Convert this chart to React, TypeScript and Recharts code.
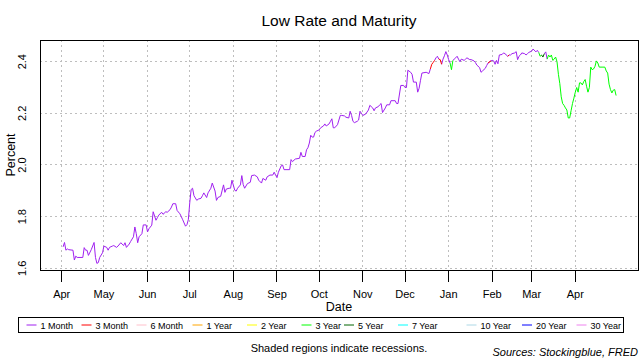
import React from "react";
import { CartesianGrid, Line, LineChart, ReferenceArea, XAxis, YAxis } from "recharts";

// month ticks on the date axis
const monthTicks = [
  "2018-04-01", "2018-05-01", "2018-06-01", "2018-07-01", "2018-08-01", "2018-09-01", "2018-10-01",
  "2018-11-01", "2018-12-01", "2019-01-01", "2019-02-01", "2019-03-01", "2019-04-01",
];
const monthLabels = ["Apr", "May", "Jun", "Jul", "Aug", "Sep", "Oct", "Nov", "Dec", "Jan", "Feb", "Mar", "Apr"];
const percentTicks = [1.6, 1.8, 2.0, 2.2, 2.4];

const maturities = ["1 Month", "3 Month", "6 Month", "1 Year", "2 Year", "3 Year", "5 Year", "7 Year", "10 Year", "20 Year", "30 Year"];
const maturityColors = ["#A020F0", "#FF0000", "#FFC0CB", "#FFA500", "#FFFF00", "#00FF00", "#006400", "#00FFFF", "#ADD8E6", "#0000FF", "#EE82EE"];

// lowest rate across maturities, read per month
const months = ["2018-04", "2018-05", "2018-06", "2018-07", "2018-08", "2018-09", "2018-10", "2018-11", "2018-12", "2019-01", "2019-02", "2019-03", "2019-04"];
const monthDays = [
  [2, 3, 4, 5, 6, 9, 10, 11, 12, 16, 17, 18, 19, 20, 22, 24, 25, 26, 27, 28, 30],
  [1, 3, 4, 5, 7, 8, 10, 11, 13, 15, 16, 17, 19, 20, 22, 23, 24, 25, 26, 28, 29, 31],
  [1, 2, 4, 5, 7, 8, 9, 11, 12, 14, 15, 17, 18, 19, 21, 22, 24, 25, 26, 28, 29, 30],
  [1, 2, 3, 4, 6, 7, 9, 10, 11, 13, 14, 16, 17, 19, 20, 21, 23, 25, 26, 27, 29, 30, 31],
  [2, 3, 4, 6, 7, 8, 9, 11, 13, 14, 16, 18, 19, 21, 22, 24, 25, 27, 29, 30, 31],
  [1, 2, 4, 5, 6, 10, 11, 12, 14, 17, 18, 19, 21, 22, 23, 24, 25, 26, 27, 28, 29],
  [1, 2, 4, 5, 6, 8, 9, 10, 11, 12, 14, 15, 16, 17, 19, 20, 22, 23, 24, 25, 26, 28, 29, 30, 31],
  [1, 3, 5, 6, 8, 9, 10, 12, 13, 14, 15, 17, 18, 20, 21, 24, 25, 26, 28, 30],
  [1, 2, 3, 5, 6, 7, 9, 10, 11, 12, 13, 16, 18, 19, 20, 21, 22, 23, 24, 25, 26, 27, 28, 29, 30, 31],
  [1, 2, 3, 4, 6, 7, 8, 9, 10, 12, 13, 14, 16, 17, 19, 20, 21, 23, 24, 25, 27, 28, 29, 31],
  [1, 2, 3, 4, 5, 6, 8, 9, 10, 12, 13, 14, 15, 17, 18, 19, 20, 21, 22, 24, 25, 26, 27],
  [1, 2, 4, 5, 6, 7, 8, 9, 10, 11, 12, 13, 14, 15, 16, 17, 18, 19, 20, 21, 22, 23, 24, 25, 26, 27, 28, 29, 30, 31],
  [1, 2, 3, 4, 5, 6, 7, 8, 9, 10, 11, 12, 13, 14, 15, 16, 17, 18, 20, 22, 23, 24, 25, 26, 27, 28, 29, 30],
];
const monthRates = [
  [1.683, 1.7, 1.67, 1.675, 1.672, 1.67, 1.632, 1.647, 1.642, 1.642, 1.68, 1.67, 1.67, 1.65, 1.672, 1.7, 1.642, 1.619, 1.622, 1.642, 1.66],
  [1.686, 1.681, 1.67, 1.681, 1.686, 1.688, 1.681, 1.686, 1.699, 1.688, 1.699, 1.681, 1.694, 1.704, 1.722, 1.76, 1.734, 1.699, 1.722, 1.734, 1.768, 1.768],
  [1.741, 1.753, 1.767, 1.819, 1.786, 1.796, 1.806, 1.817, 1.809, 1.819, 1.817, 1.827, 1.837, 1.85, 1.85, 1.824, 1.811, 1.8, 1.788, 1.763, 1.769, 1.788],
  [1.853, 1.905, 1.91, 1.881, 1.863, 1.868, 1.871, 1.881, 1.892, 1.874, 1.892, 1.91, 1.93, 1.899, 1.863, 1.874, 1.879, 1.923, 1.894, 1.907, 1.91, 1.91, 1.941],
  [1.902, 1.899, 1.91, 1.923, 1.959, 1.924, 1.91, 1.928, 1.933, 1.959, 1.961, 1.954, 1.941, 1.93, 1.948, 1.941, 1.954, 1.961, 1.961, 1.972, 1.961],
  [1.951, 1.972, 1.997, 2.0, 1.982, 1.982, 2.021, 2.013, 2.023, 2.026, 2.049, 2.033, 2.033, 2.059, 2.067, 2.085, 2.115, 2.108, 2.108, 2.126, 2.131],
  [2.136, 2.144, 2.151, 2.159, 2.151, 2.159, 2.169, 2.179, 2.144, 2.144, 2.156, 2.174, 2.192, 2.192, 2.19, 2.185, 2.182, 2.208, 2.192, 2.169, 2.164, 2.169, 2.174, 2.208, 2.2],
  [2.192, 2.197, 2.213, 2.231, 2.221, 2.21, 2.221, 2.226, 2.233, 2.238, 2.203, 2.221, 2.233, 2.233, 2.249, 2.249, 2.238, 2.238, 2.308, 2.308],
  [2.3, 2.3, 2.367, 2.359, 2.351, 2.321, 2.321, 2.282, 2.297, 2.328, 2.356, 2.359, 2.354, 2.372, 2.39, 2.397, 2.405, 2.415, 2.421, 2.41, 2.408, 2.39, 2.41, 2.423, 2.439, 2.426],
  [2.408, 2.395, 2.369, 2.405, 2.415, 2.421, 2.41, 2.4, 2.41, 2.405, 2.41, 2.415, 2.408, 2.408, 2.403, 2.397, 2.387, 2.377, 2.359, 2.364, 2.374, 2.385, 2.395, 2.403],
  [2.405, 2.403, 2.39, 2.405, 2.392, 2.426, 2.428, 2.434, 2.431, 2.421, 2.426, 2.426, 2.431, 2.434, 2.439, 2.408, 2.421, 2.426, 2.434, 2.431, 2.426, 2.431, 2.436],
  [2.441, 2.449, 2.438, 2.444, 2.436, 2.421, 2.426, 2.418, 2.431, 2.438, 2.41, 2.426, 2.418, 2.426, 2.405, 2.41, 2.418, 2.4, 2.351, 2.315, 2.264, 2.238, 2.231, 2.221, 2.213, 2.182, 2.182, 2.21, 2.238, 2.259],
  [2.282, 2.3, 2.282, 2.318, 2.318, 2.31, 2.323, 2.331, 2.305, 2.282, 2.3, 2.379, 2.369, 2.372, 2.382, 2.403, 2.395, 2.379, 2.379, 2.379, 2.364, 2.356, 2.313, 2.292, 2.279, 2.29, 2.292, 2.269],
];

// stretches where a maturity other than 1 Month held the lowest rate
const runStart = ["2018-12-20", "2018-12-26", "2019-01-03", "2019-01-31", "2019-02-13", "2019-03-07", "2019-03-09", "2019-03-13"];
const runEnd = ["2018-12-22", "2018-12-27", "2019-01-04", "2019-01-31", "2019-02-13", "2019-03-08", "2019-03-10", "2019-04-30"];
const runMaturity = ["3 Month", "3 Month", "3 Year", "3 Month", "3 Month", "3 Year", "5 Year", "3 Year"];

const pad = (n: number) => (n < 10 ? "0" + n : "" + n);
const dates: string[] = [];
const lowRate: number[] = [];
months.forEach((m, i) => {
  monthDays[i].forEach((d, j) => {
    dates.push(m + "-" + pad(d));
    lowRate.push(monthRates[i][j]);
  });
});

const ownerOf = (d: string) => {
  for (let k = 0; k < runStart.length; k++) {
    if (d >= runStart[k] && d <= runEnd[k]) return runMaturity[k];
  }
  return "1 Month";
};

const rows: Record<string, number>[] = dates.map((d) => ({ t: Date.parse(d) }));
dates.forEach((d, i) => {
  const m = ownerOf(d);
  rows[i][m] = lowRate[i];
  if (i > 0) rows[i - 1][m] = lowRate[i - 1];
});
const drawn = maturities.filter((m) => rows.some((r) => r[m] !== undefined));

const tickTimes = monthTicks.map((d) => Date.parse(d));
const xDomain = [Date.parse("2018-03-16T13:54:00Z"), Date.parse("2019-05-15T13:26:00Z")];
const yDomain = [1.5934, 2.484];

const font = "'Liberation Sans', Arial, sans-serif";
const legendX = [26.5, 81.5, 136.5, 192.5, 247, 301.5, 344, 398, 466.5, 522, 576.5];

const YTick = (props: any) => {
  const { y, payload } = props;
  return (
    <text x={26} y={y} transform={`rotate(-90, 26, ${y})`} textAnchor="middle" fontSize={11} fill="#000" fontFamily={font}>
      {payload.value.toFixed(1)}
    </text>
  );
};

export default function App() {
  return (
    <div style={{ position: "absolute", left: 0, top: 0, width: 640, height: 360, background: "#fff" }}>
      <LineChart width={640} height={360} data={rows} margin={{ top: 40, right: 2, bottom: 60, left: 0 }}>
        <CartesianGrid stroke="#BEBEBE" strokeDasharray="2 3" shapeRendering="crispEdges" />
        <XAxis
          dataKey="t"
          type="number"
          domain={xDomain}
          allowDataOverflow
          ticks={tickTimes}
          tickFormatter={(v: number) => monthLabels[tickTimes.indexOf(v)]}
          height={30}
          axisLine={false}
          tickSize={12}
          tickMargin={8}
          tickLine={{ stroke: "#000", shapeRendering: "crispEdges" }}
          tick={{ fill: "#000", fontSize: 11, fontFamily: font }}
        />
        <YAxis
          type="number"
          domain={yDomain}
          allowDataOverflow
          ticks={percentTicks}
          width={40}
          axisLine={false}
          tickLine={false}
          tick={<YTick />}
        />
        <ReferenceArea
          x1={xDomain[0]}
          x2={xDomain[1]}
          y1={yDomain[0]}
          y2={yDomain[1]}
          fill="none"
          fillOpacity={0}
          stroke="#000"
          strokeWidth={1}
          shapeRendering="crispEdges"
        />
        {drawn.map((m) => (
          <Line
            key={m}
            type="linear"
            dataKey={m}
            stroke={maturityColors[maturities.indexOf(m)]}
            strokeWidth={1}
            dot={false}
            activeDot={false}
            connectNulls={false}
            isAnimationActive={false}
          />
        ))}
      </LineChart>
      <svg width={640} height={360} style={{ position: "absolute", left: 0, top: 0, pointerEvents: "none" }} fontFamily={font}>
        <text x={339} y={26} textAnchor="middle" fontSize={15.5} fill="#000">Low Rate and Maturity</text>
        <text x={15} y={155} transform="rotate(-90, 15, 155)" textAnchor="middle" fontSize={12.5} fill="#000">Percent</text>
        <text x={339} y={311} textAnchor="middle" fontSize={12.5} fill="#000">Date</text>
        <rect x={18.5} y={317.5} width={605} height={15} fill="none" stroke="#000" strokeWidth={1} />
        {maturities.map((m, i) => (
          <g key={m}>
            <line x1={legendX[i]} x2={legendX[i] + 10} y1={325} y2={325} stroke={maturityColors[i]} strokeWidth={1} />
            <text x={legendX[i] + 14} y={328.5} fontSize={9} fill="#000">{m}</text>
          </g>
        ))}
        <text x={339} y={352} textAnchor="middle" fontSize={11} fill="#000">Shaded regions indicate recessions.</text>
        <text x={638} y={356} textAnchor="end" fontSize={11} fontStyle="italic" fill="#000">Sources: Stockingblue, FRED</text>
      </svg>
    </div>
  );
}
